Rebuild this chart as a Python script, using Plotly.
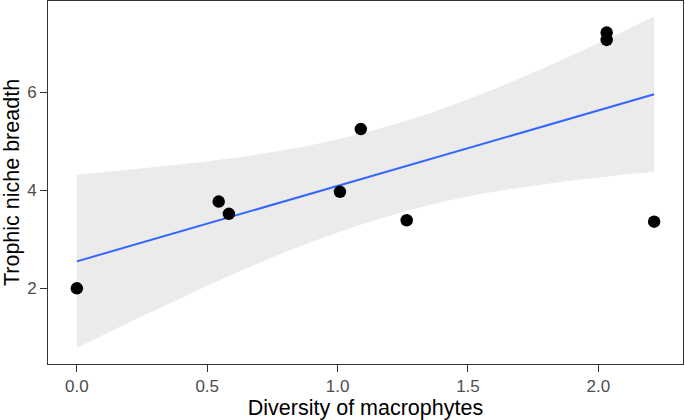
import plotly.graph_objects as go

# Observed data
diversity = [0.0, 0.544, 0.583, 1.009, 1.089, 1.265, 2.032, 2.032, 2.214]
niche_breadth = [2.0, 3.77, 3.52, 3.97, 5.25, 3.39, 7.22, 7.07, 3.36]

# Fitted linear trend
fit_x = [0.0, 2.214]
fit_y = [2.55, 5.96]

# Confidence band
band_x = [0.0, 0.2, 0.4, 0.6, 0.8, 1.0, 1.2, 1.4, 1.6, 1.8, 2.0, 2.214]
band_upper = [4.32, 4.42, 4.53, 4.66, 4.83, 5.04, 5.32, 5.66, 6.07, 6.52, 7.00, 7.55]
band_lower = [0.78, 1.30, 1.80, 2.29, 2.74, 3.14, 3.48, 3.76, 3.97, 4.13, 4.26, 4.38]

x_ticks = [0.0, 0.5, 1.0, 1.5, 2.0]
x_tick_text = ["0.0", "0.5", "1.0", "1.5", "2.0"]
y_ticks = [2, 4, 6]
y_tick_text = ["2", "4", "6"]

FONT = "Liberation Sans, Arial, sans-serif"

fig = go.Figure()
fig.add_trace(go.Scatter(
    x=band_x, y=band_lower, mode="lines",
    line=dict(width=0, shape="spline", color="rgba(0,0,0,0)"),
    hoverinfo="skip", showlegend=False))
fig.add_trace(go.Scatter(
    x=band_x, y=band_upper, mode="lines", fill="tonexty", fillcolor="#EBEBEB",
    line=dict(width=0, shape="spline", color="rgba(0,0,0,0)"),
    hoverinfo="skip", showlegend=False))
fig.add_trace(go.Scatter(
    x=fit_x, y=fit_y, mode="lines",
    line=dict(color="#3366FF", width=2), showlegend=False))
fig.add_trace(go.Scatter(
    x=diversity, y=niche_breadth, mode="markers",
    marker=dict(color="black", size=12.5), showlegend=False))

axis_common = dict(
    showgrid=False, zeroline=False, showline=True, mirror=True,
    linecolor="#333333", linewidth=1,
    ticks="outside", ticklen=7, tickwidth=1, tickcolor="#333333",
    tickfont=dict(family=FONT, size=17, color="#4D4D4D"),
    automargin=False,
)

fig.update_layout(
    width=685, height=420,
    margin=dict(l=48, r=2, t=1, b=56),
    paper_bgcolor="white", plot_bgcolor="white",
    xaxis=dict(range=[-0.1107, 2.3247], tickvals=x_ticks, ticktext=x_tick_text,
               title=dict(text="Diversity of macrophytes", standoff=4,
                          font=dict(family=FONT, size=21.5, color="black")),
               **axis_common),
    yaxis=dict(range=[0.455, 7.865], tickvals=y_ticks, ticktext=y_tick_text,
               title=dict(text="Trophic niche breadth", standoff=6,
                          font=dict(family=FONT, size=21.5, color="black")),
               **axis_common),
)

fig.write_html("out.html", config={"displayModeBar": False},
               post_script="document.body.style.margin='0';document.body.style.padding='0';")
